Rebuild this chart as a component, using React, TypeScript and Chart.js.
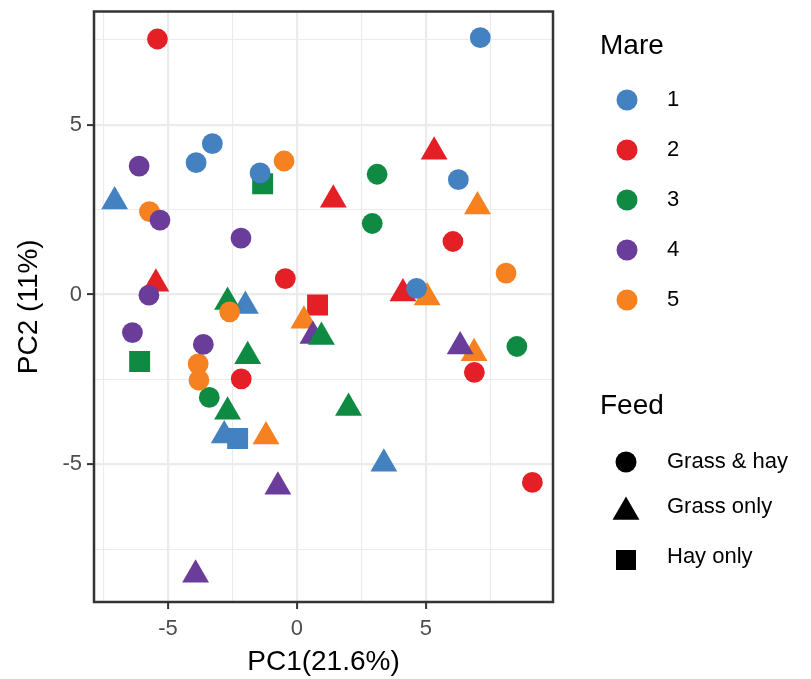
import React, { useEffect, useRef } from "react";
import { Chart, registerables } from "chart.js";

Chart.register(...registerables);

// ---- Data (PC1, PC2) per mare and feed ----
const MARE_LABELS = ["1", "2", "3", "4", "5"];
const MARE_COLORS = ["#4381C1", "#E41F26", "#0F8A43", "#6A3D9A", "#F68121"];
const FEED_LABELS = ["Grass & hay", "Grass only", "Hay only"];

const mare1GrassHay = [[7.11, 7.56], [-3.28, 4.44], [-3.91, 3.88], [-1.43, 3.58], [6.26, 3.38], [4.64, 0.18]];
const mare1GrassOnly = [[-7.07, 2.74], [-2.0, -0.34], [-2.82, -4.15], [3.37, -4.98]];
const mare1HayOnly = [[-2.3, -4.24]];

const mare2GrassHay = [[-5.41, 7.52], [-0.45, 0.47], [6.05, 1.56], [-2.16, -2.48], [6.88, -2.29], [9.13, -5.53]];
const mare2GrassOnly = [[5.32, 4.2], [1.41, 2.79], [-5.47, 0.32], [4.11, 0.03]];
const mare2HayOnly = [[0.8, -0.31]];

const mare3GrassHay = [[3.11, 3.54], [2.92, 2.09], [-3.4, -3.03], [8.53, -1.53]];
const mare3GrassOnly = [[-2.69, -0.22], [0.95, -1.25], [-1.91, -1.82], [-2.69, -3.45], [2.0, -3.34]];
const mare3HayOnly = [[-1.33, 3.26], [-6.1, -1.97]];

const mare4GrassHay = [[-6.12, 3.78], [-5.31, 2.19], [-2.17, 1.66], [-5.74, -0.02], [-6.38, -1.12], [-3.63, -1.47]];
const mare4GrassOnly = [[0.62, -1.22], [6.33, -1.53], [-0.74, -5.66], [-3.93, -8.25]];

const mare5GrassHay = [[-0.5, 3.93], [-5.72, 2.44], [8.11, 0.63], [-2.61, -0.51], [-3.83, -2.04], [-3.8, -2.52]];
const mare5GrassOnly = [[7.0, 2.59], [5.05, -0.09], [0.27, -0.77], [-1.2, -4.18], [6.87, -1.73]];

const X_TICKS = [-7.5, -5, -2.5, 0, 2.5, 5, 7.5];
const Y_TICKS = [-7.5, -5, -2.5, 0, 2.5, 5, 7.5];
const X_RANGE = [-7.87, 9.93];
const Y_RANGE = [-9.05, 8.33];

const X_TITLE = "PC1(21.6%)";
const Y_TITLE = "PC2 (11%)";

// drawing order (later = on top)
const SERIES: [number[][], number, number][] = [
  [mare1GrassHay, 0, 0],
  [mare4GrassHay, 3, 0],
  [mare5GrassHay, 4, 0],
  [mare2GrassHay, 1, 0],
  [mare3GrassHay, 2, 0],
  [mare3GrassOnly, 2, 1],
  [mare3HayOnly, 2, 2],
  [mare1GrassOnly, 0, 1],
  [mare1HayOnly, 0, 2],
  [mare4GrassOnly, 3, 1],
  [mare5GrassOnly, 4, 1],
  [mare2GrassOnly, 1, 1],
  [mare2HayOnly, 1, 2],
];

const FONT = "'Liberation Sans', Arial, Helvetica, sans-serif";
const STYLES = ["circle", "triangle", "rect"];
const RADII = [10.4, 15.5, 14.8];

const panelBorder = {
  id: "panelBorder",
  afterDraw(chart: any) {
    const { ctx, chartArea } = chart;
    ctx.save();
    ctx.strokeStyle = "#333333";
    ctx.lineWidth = 2.5;
    ctx.strokeRect(chartArea.left, chartArea.top, chartArea.right - chartArea.left, chartArea.bottom - chartArea.top);
    ctx.restore();
  },
};

function Symbol({ shape, color }: { shape: number; color: string }) {
  if (shape === 0)
    return (
      <svg width="30" height="30" style={{ display: "block" }}>
        <circle cx="15" cy="15" r="10.5" fill={color} />
      </svg>
    );
  if (shape === 1) {
    const r = 15.5;
    const cx = 15, cy = 17;
    const pts = [0, 1, 2]
      .map((i) => {
        const a = (i * 2 * Math.PI) / 3;
        return `${cx + Math.sin(a) * r},${cy - Math.cos(a) * r}`;
      })
      .join(" ");
    return (
      <svg width="30" height="30" style={{ display: "block", overflow: "visible" }}>
        <polygon points={pts} fill={color} />
      </svg>
    );
  }
  return (
    <svg width="30" height="30" style={{ display: "block" }}>
      <rect x="5" y="5" width="20" height="20" fill={color} />
    </svg>
  );
}

function Text({ x, y, size, children }: any) {
  return (
    <div
      style={{
        position: "absolute",
        left: x,
        top: y,
        transform: "translateY(-50%)",
        fontFamily: FONT,
        fontSize: size,
        lineHeight: 1,
        color: "#000",
        whiteSpace: "nowrap",
      }}
    >
      {children}
    </div>
  );
}

export default function App() {
  const ref = useRef<HTMLCanvasElement>(null);

  useEffect(() => {
    const datasets = SERIES.map(([pts, m, f]) => ({
      label: `${MARE_LABELS[m]} ${FEED_LABELS[f]}`,
      data: pts.map(([x, y]) => ({ x, y })),
      pointStyle: STYLES[f],
      pointRadius: RADII[f],
      pointHoverRadius: RADII[f],
      backgroundColor: MARE_COLORS[m],
      borderColor: MARE_COLORS[m],
      borderWidth: 0,
      pointBorderWidth: 0,
    }));

    const grid = {
      color: (c: any) => "#EBEBEB",
      lineWidth: (c: any) => (c.tick && c.tick.value % 5 === 0 ? 2.2 : 1.1),
      drawTicks: true,
      tickLength: 7,
      tickWidth: 2,
      tickColor: (c: any) => (c.tick && c.tick.value % 5 === 0 ? "#333333" : "rgba(0,0,0,0)"),
    };

    const chart = new Chart(ref.current!, {
      type: "scatter",
      data: { datasets },
      plugins: [panelBorder],
      options: {
        animation: false,
        responsive: false,
        events: [],
        layout: { padding: { left: 0, top: 7, right: 258, bottom: 0 } },
        plugins: { legend: { display: false }, tooltip: { enabled: false } },
        scales: {
          x: {
            type: "linear",
            min: X_RANGE[0],
            max: X_RANGE[1],
            afterBuildTicks: (s: any) => {
              s.ticks = X_TICKS.map((v) => ({ value: v }));
            },
            afterFit: (s: any) => {
              s.height = 77;
              s.paddingLeft = 0;
              s.paddingRight = 0;
            },
            ticks: {
              autoSkip: false,
              maxRotation: 0,
              padding: 7,
              color: "#4D4D4D",
              font: { family: FONT, size: 22 },
              callback: (v: any) => (Number(v) % 5 === 0 ? String(v) : ""),
            },
            grid,
            border: { display: false },
            title: {
              display: true,
              text: X_TITLE,
              color: "#000",
              font: { family: FONT, size: 28 },
              padding: { top: 0, bottom: 0 },
            },
          },
          y: {
            type: "linear",
            min: Y_RANGE[0],
            max: Y_RANGE[1],
            afterBuildTicks: (s: any) => {
              s.ticks = Y_TICKS.map((v) => ({ value: v }));
            },
            afterFit: (s: any) => {
              s.width = 94;
              s.paddingTop = 0;
              s.paddingBottom = 0;
            },
            ticks: {
              autoSkip: false,
              padding: 5,
              color: "#4D4D4D",
              font: { family: FONT, size: 22 },
              callback: (v: any) => (Number(v) % 5 === 0 ? String(v) : ""),
            },
            grid,
            border: { display: false },
            title: {
              display: true,
              text: Y_TITLE,
              color: "#000",
              font: { family: FONT, size: 28 },
              padding: { top: 12, bottom: 0 },
            },
          },
        },
      } as any,
    });
    return () => chart.destroy();
  }, []);

  const mareRows = [100, 149.5, 199.5, 250, 300];
  const feedSym = [462, 512, 560];
  const feedText = [461, 506, 556];

  return (
    <div style={{ position: "absolute", left: 0, top: 0, width: 811, height: 679, background: "#fff", overflow: "hidden" }}>
      <canvas ref={ref} width={811} height={683} style={{ position: "absolute", left: 0, top: -4 }} />
      <Text x={600} y={45} size={28}>Mare</Text>
      {MARE_LABELS.map((lab, i) => (
        <React.Fragment key={lab}>
          <div style={{ position: "absolute", left: 626.5 - 15, top: mareRows[i] - 15 }}>
            <Symbol shape={0} color={MARE_COLORS[i]} />
          </div>
          <Text x={667} y={mareRows[i] - 1} size={22}>{lab}</Text>
        </React.Fragment>
      ))}
      <Text x={600} y={405} size={28}>Feed</Text>
      {FEED_LABELS.map((lab, i) => (
        <React.Fragment key={lab}>
          <div style={{ position: "absolute", left: 626 - 15, top: feedSym[i] - (i === 1 ? 17 : 15) }}>
            <Symbol shape={i} color="#000" />
          </div>
          <Text x={667} y={feedText[i]} size={22}>{lab}</Text>
        </React.Fragment>
      ))}
    </div>
  );
}
